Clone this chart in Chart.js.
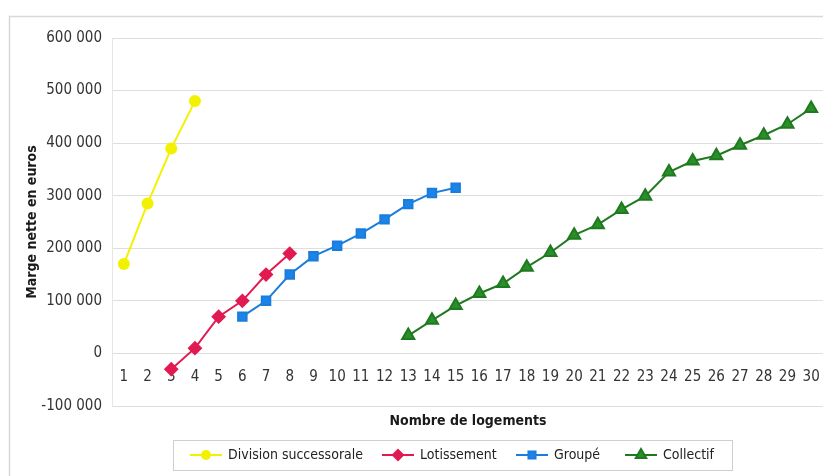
<!DOCTYPE html>
<html>
<head>
<meta charset="utf-8">
<script src="https://cdn.jsdelivr.net/npm/chart.js@4/dist/chart.umd.min.js"></script>
<style>
  html, body { margin: 0; background: #fff; overflow: hidden; }
</style>
</head>
<body>
<!-- a bit wider than the window: the plot runs off the right edge like the scan -->
<canvas id="chart" width="832" height="476"></canvas>
<script>
// nombre de logements (x axis)
var labels = ['1','2','3','4','5','6','7','8','9','10','11','12','13','14','15',
              '16','17','18','19','20','21','22','23','24','25','26','27','28','29','30'];

// marge nette en euros (null = no point)
var division = [170000, 285000, 390000, 480000, null, null, null, null, null, null,
                null, null, null, null, null, null, null, null, null, null,
                null, null, null, null, null, null, null, null, null, null];
var lotissement = [null, null, -30000, 10000, 70000, 100000, 150000, 190000, null, null,
                   null, null, null, null, null, null, null, null, null, null,
                   null, null, null, null, null, null, null, null, null, null];
var groupe = [null, null, null, null, null, 70000, 100000, 150000, 185000, 205000,
              228000, 255000, 284000, 305000, 315000, null, null, null, null, null,
              null, null, null, null, null, null, null, null, null, null];
var collectif = [null, null, null, null, null, null, null, null, null, null,
                 null, null, 34000, 63000, 91000, 114000, 133000, 164000, 192000, 225000,
                 245000, 274000, 299000, 345000, 366000, 376000, 396000, 415000, 436000, 466000];

var yTicks = { min: -100000, max: 600000, step: 100000 };

var fontFamily = '"DejaVu Sans Condensed", "Liberation Sans Narrow", sans-serif';

function fmt(v) {
    return String(v).replace(/\B(?=(\d{3})+(?!\d))/g, ' ');
}

var chartData = {
    labels: labels,
    datasets: [{
        label: 'Division successorale',
        data: division,
        borderColor: '#f2f200',
        backgroundColor: '#f2f200',
        pointStyle: 'circle',
        pointRadius: 5,
        borderWidth: 2
    },
    {
        label: 'Lotissement',
        data: lotissement,
        borderColor: '#e21a52',
        backgroundColor: '#e21a52',
        pointStyle: 'rectRot',
        pointRadius: 6,
        borderWidth: 2
    },
    {
        label: 'Groupé',
        data: groupe,
        borderColor: '#1a7ddc',
        backgroundColor: '#1a84ea',
        pointStyle: 'rect',
        pointRadius: 6,
        borderWidth: 2
    },
    {
        label: 'Collectif',
        data: collectif,
        borderColor: '#1f7a1f',
        backgroundColor: '#2a8f2a',
        pointStyle: 'triangle',
        pointRadius: 7,
        borderWidth: 2
    }]
};

// frame, x axis title and line+marker legend
var extras = {
    id: 'extras',
    beforeDraw: function(chart) {
        var ctx = chart.ctx;
        ctx.save();
        ctx.strokeStyle = '#d8d8d8';
        ctx.lineWidth = 1.5;
        ctx.strokeRect(9.5, 16.5, 900, 600);
        ctx.restore();
    },
    afterDraw: function(chart) {
        var ctx = chart.ctx;
        ctx.save();
        ctx.fillStyle = '#1a1a1a';
        ctx.font = 'bold 14px ' + fontFamily;
        ctx.textAlign = 'center';
        ctx.textBaseline = 'middle';
        ctx.fillText('Nombre de logements', 468, 421);

        ctx.strokeStyle = '#cfcfcf';
        ctx.lineWidth = 1;
        ctx.strokeRect(173.5, 440.5, 559, 30);

        var xs = [190, 382, 516, 625];
        var y = 455;
        ctx.font = '14px ' + fontFamily;
        ctx.textAlign = 'left';
        chart.data.datasets.forEach(function(ds, i) {
            var x = xs[i];
            ctx.strokeStyle = ds.borderColor;
            ctx.lineWidth = 2;
            ctx.beginPath();
            ctx.moveTo(x, y);
            ctx.lineTo(x + 32, y);
            ctx.stroke();
            ctx.fillStyle = ds.backgroundColor;
            Chart.helpers.drawPoint(ctx, {
                pointStyle: ds.pointStyle,
                radius: ds.pointRadius - 1,
                rotation: 0,
                borderWidth: 1
            }, x + 16, y);
            ctx.fillStyle = '#222';
            ctx.fillText(ds.label, x + 38, y);
        });
        ctx.restore();
    }
};

var chartOptions = {
    responsive: false,
    animation: false,
    layout: {
        padding: { left: 24, top: 38, right: 0, bottom: 70 }
    },
    plugins: {
        legend: { display: false },
        title: { display: false },
        tooltip: { enabled: false }
    },
    scales: {
        x: {
            type: 'category',
            position: { y: 0 },
            offset: true,
            grid: { display: false, drawTicks: true, tickLength: 15 },
            border: { display: false },
            ticks: {
                color: '#333',
                padding: 0,
                autoSkip: false,
                maxRotation: 0,
                font: { family: fontFamily, size: 15 }
            }
        },
        y: {
            min: yTicks.min,
            max: yTicks.max,
            grid: { color: '#dedede', drawTicks: false },
            border: { display: true, color: '#e6e6e6' },
            ticks: {
                stepSize: yTicks.step,
                padding: 10,
                color: '#333',
                font: { family: fontFamily, size: 15 },
                callback: function(v) { return fmt(v); }
            },
            title: {
                display: true,
                text: 'Marge nette en euros',
                color: '#1a1a1a',
                padding: 0,
                font: { family: fontFamily, size: 14, weight: 'bold' }
            },
            afterFit: function(scale) {
                scale.width = 88;
            }
        }
    }
};

var chart = new Chart(document.getElementById('chart'), {
    type: 'line',
    data: chartData,
    options: chartOptions,
    plugins: [extras]
});
</script>
</body>
</html>
